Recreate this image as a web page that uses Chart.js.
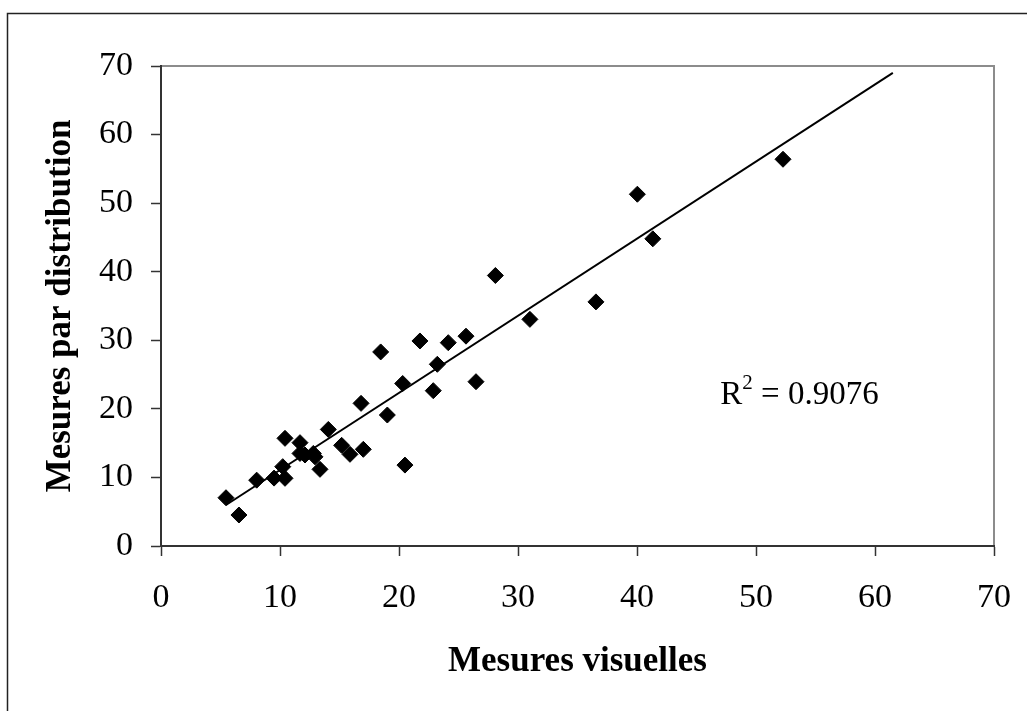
<!DOCTYPE html>
<html>
<head>
<meta charset="utf-8">
<script src="https://cdn.jsdelivr.net/npm/chart.js@4/dist/chart.umd.min.js"></script>
<style>
  html, body { margin: 0; padding: 0; background: #fff; }
  #wrap { width: 1027px; height: 711px; position: relative; }
</style>
</head>
<body>
<div id="wrap"><canvas id="chart" width="1027" height="711"></canvas></div>
<script>
  // values
  const visual = [5.46, 6.55, 8.04, 9.5, 10.42, 10.23, 10.42, 11.68, 11.68, 12.1, 12.8, 12.94,
    13.36, 14.06, 15.18, 15.88, 17.0, 16.81, 18.46, 19.02, 20.31, 20.5, 21.76, 22.88,
    23.22, 24.14, 25.63, 26.47, 28.1, 31.0, 36.55, 40.03, 41.33, 52.27];
  const distribution = [7.04, 4.52, 9.6, 9.9, 9.87, 11.57, 15.7, 15.07, 13.5, 13.27, 13.5, 13.0,
    11.18, 17.0, 14.68, 13.37, 14.1, 20.8, 28.3, 19.1, 23.7, 11.8, 29.9, 22.65,
    26.5, 29.65, 30.6, 23.96, 39.45, 33.05, 35.6, 51.3, 44.8, 56.4];
  const trendX = [5.46, 61.5];
  const trendY = [5.98, 69.0];
  const axisTicks = [0, 10, 20, 30, 40, 50, 60, 70];
  const r2Text = '0.9076';

  const serif = "'Liberation Serif', 'Times New Roman', serif";

  const points = visual.map((x, i) => ({ x: x, y: distribution[i] }));
  const trend = trendX.map((x, i) => ({ x: x, y: trendY[i] }));

  const framePlugin = {
    id: 'frame',
    beforeDraw(chart) {
      const ctx = chart.ctx;
      ctx.save();
      ctx.strokeStyle = '#222';
      ctx.lineWidth = 1.5;
      ctx.beginPath();
      ctx.moveTo(7.5, 711);
      ctx.lineTo(7.5, 13.5);
      ctx.lineTo(1027, 13.5);
      ctx.stroke();
      // grey top and right edge of the plot area
      const a = chart.chartArea;
      ctx.strokeStyle = '#8c8c8c';
      ctx.lineWidth = 2;
      ctx.beginPath();
      ctx.moveTo(a.left, a.top);
      ctx.lineTo(a.right, a.top);
      ctx.lineTo(a.right, a.bottom);
      ctx.stroke();
      ctx.restore();
    },
    afterDraw(chart) {
      const ctx = chart.ctx;
      const xs = chart.scales.x, ys = chart.scales.y;
      const px = xs.getPixelForValue(47.0);
      const py = ys.getPixelForValue(20.7);
      ctx.save();
      ctx.fillStyle = '#000';
      ctx.textBaseline = 'alphabetic';
      ctx.font = '33px ' + serif;
      ctx.fillText('R', px, py);
      let w = ctx.measureText('R').width;
      ctx.font = '21px ' + serif;
      ctx.fillText('2', px + w, py - 15);
      w += ctx.measureText('2').width;
      ctx.font = '33px ' + serif;
      ctx.fillText(' = ' + r2Text, px + w, py);
      ctx.restore();
    }
  };

  new Chart(document.getElementById('chart'), {
    type: 'scatter',
    data: {
      datasets: [
        {
          label: 'Mesures',
          data: points,
          pointStyle: 'rectRot',
          pointRadius: 8,
          pointBackgroundColor: '#000',
          pointBorderColor: '#000',
          pointBorderWidth: 1,
          order: 1
        },
        {
          label: 'Tendance',
          data: trend,
          showLine: true,
          pointRadius: 0,
          borderColor: '#000',
          borderWidth: 2,
          order: 2
        }
      ]
    },
    options: {
      responsive: false,
      animation: false,
      layout: { padding: { top: 66, right: 33, left: 0, bottom: 0 } },
      plugins: { legend: { display: false }, tooltip: { enabled: false } },
      scales: {
        x: {
          type: 'linear',
          min: 0,
          max: 70,
          afterBuildTicks: (s) => { s.ticks = axisTicks.map(v => ({ value: v })); },
          afterFit: (s) => { s.height = 165; s.paddingRight = 0; s.paddingLeft = 0; },
          grid: { drawOnChartArea: false, drawTicks: true, tickLength: 10, tickColor: '#333', tickWidth: 1.5 },
          border: { display: true, color: '#333', width: 2 },
          ticks: { color: '#000', font: { family: serif, size: 34 }, padding: 22, maxRotation: 0 },
          title: {
            display: true,
            text: 'Mesures visuelles',
            color: '#000',
            font: { family: serif, size: 35, weight: 'bold' },
            padding: { top: 0, bottom: 28 }
          }
        },
        y: {
          type: 'linear',
          min: 0,
          max: 70,
          afterBuildTicks: (s) => { s.ticks = axisTicks.map(v => ({ value: v })); },
          afterFit: (s) => { s.width = 161; },
          grid: { drawOnChartArea: false, drawTicks: true, tickLength: 10, tickColor: '#333', tickWidth: 1.5 },
          border: { display: true, color: '#333', width: 2 },
          ticks: { color: '#000', font: { family: serif, size: 34 }, padding: 18 },
          title: {
            display: true,
            text: 'Mesures par distribution',
            color: '#000',
            font: { family: serif, size: 35, weight: 'bold' },
            padding: { top: 40, bottom: 0 }
          }
        }
      }
    },
    plugins: [framePlugin]
  });
</script>
</body>
</html>
